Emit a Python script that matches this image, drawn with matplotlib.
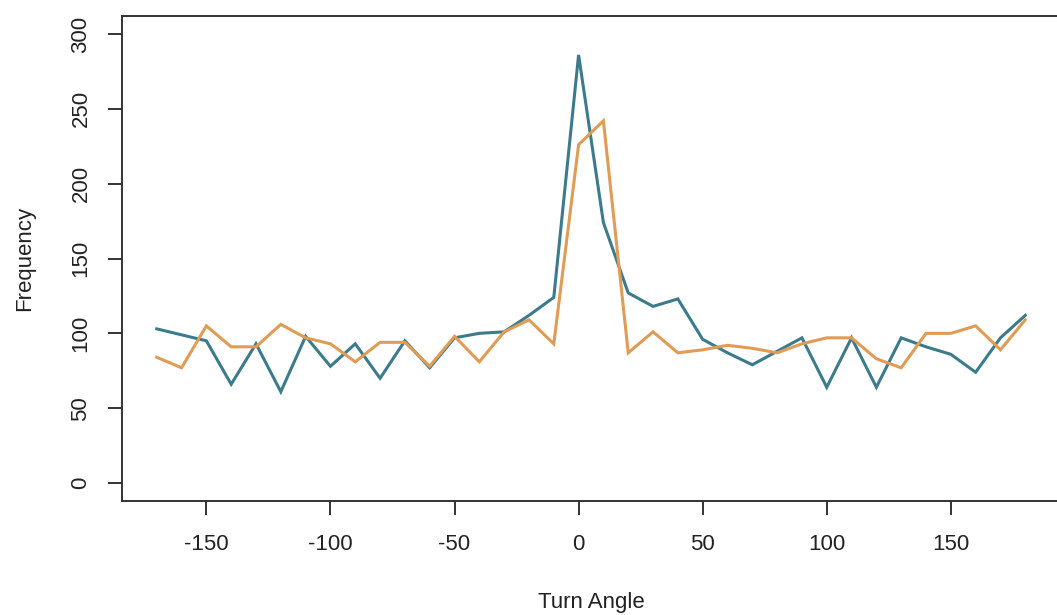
import matplotlib
matplotlib.use("Agg")
import matplotlib.pyplot as plt
import numpy as np

angles = list(range(-170, 181, 10))
teal_freq = [103, 99, 95, 66, 93, 61, 98, 78, 93, 70, 95, 77, 97, 100, 101, 112, 124,
             286, 174, 127, 118, 123, 96, 87, 79, 88, 97, 64, 97, 64, 97, 91, 86, 74, 97, 112]
orange_freq = [84, 77, 105, 91, 91, 106, 97, 93, 81, 94, 94, 78, 98, 81, 101, 109, 93,
               226, 242, 87, 101, 87, 89, 92, 90, 87, 93, 97, 97, 83, 77, 100, 100, 105, 89, 109]
xticks = [-150, -100, -50, 0, 50, 100, 150]
yticks = [0, 50, 100, 150, 200, 250, 300]

plt.rcParams['font.family'] = ['Liberation Sans', 'DejaVu Sans']

fig = plt.figure(figsize=(10.57, 6.15), dpi=100)
ax = fig.add_axes([122/1057, (615-501)/615, (1060-122)/1057, (501-16)/615])

ax.plot(angles, teal_freq, color='#3b7b8b', lw=2.2, solid_joinstyle='miter')
ax.plot(angles, orange_freq, color='#e09b55', lw=2.2, solid_joinstyle='miter')

ax.set_xlim(-184, 194)
ax.set_ylim(-12, 312)
ax.set_xticks(xticks)
ax.set_yticks(yticks)
ax.set_xticklabels([str(v) for v in xticks], fontsize=16, color='#222222')
ax.set_yticklabels([str(v) for v in yticks], fontsize=16, color='#222222', rotation=90, va='center')
ax.tick_params(axis='both', direction='out', length=10, width=1.4, color='#333333')
ax.tick_params(axis='x', pad=14)
ax.tick_params(axis='y', pad=12)
for s in ax.spines.values():
    s.set_linewidth(1.4)
    s.set_color('#333333')

ax.set_xlabel('Turn Angle', fontsize=16, color='#222222')
ax.set_ylabel('Frequency', fontsize=16, color='#222222')
ax.xaxis.set_label_coords(0.5, -0.1875)
ax.yaxis.set_label_coords(-0.093, 0.5)

fig.savefig('out.png', dpi=100)
